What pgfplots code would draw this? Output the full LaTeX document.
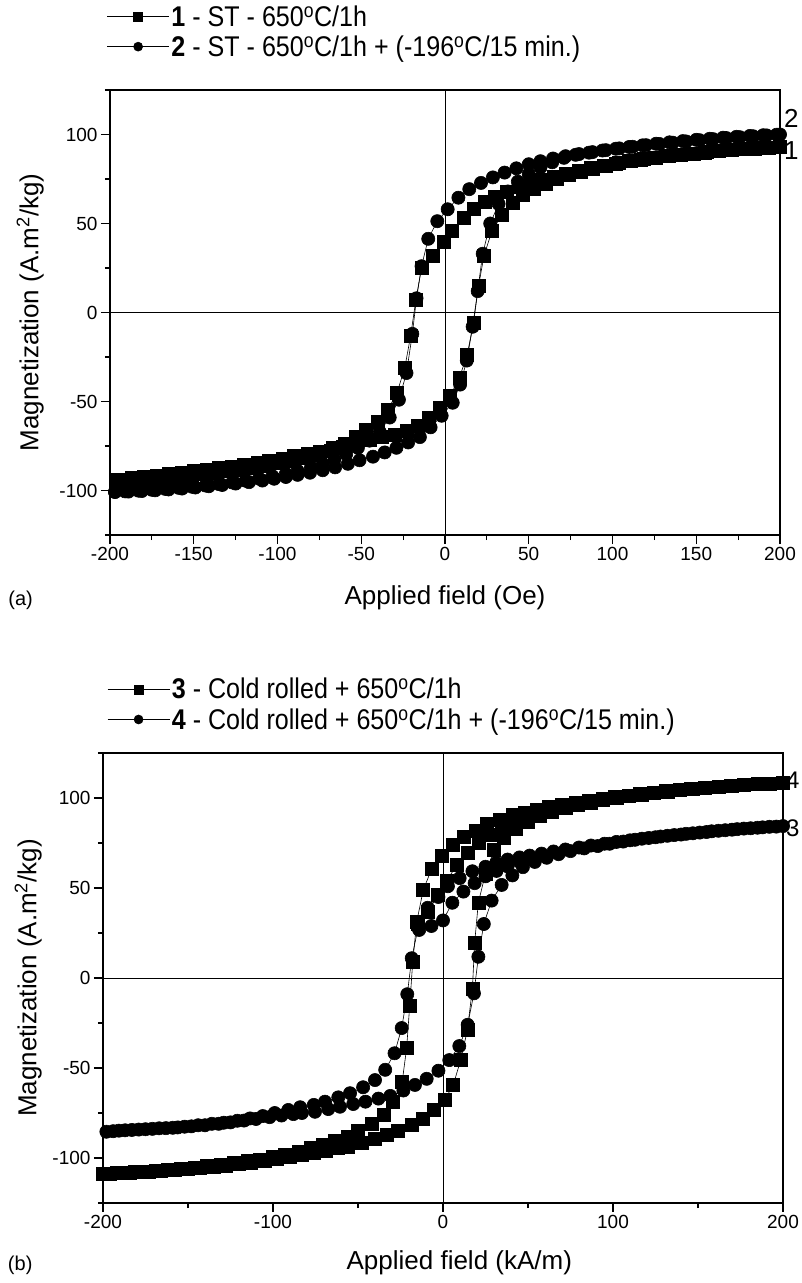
\documentclass[border=0pt]{standalone}
\usepackage{fontspec}
\setmainfont{Liberation Sans}
\newfontfamily\legfont{Liberation Sans}[FakeStretch=0.88]
\usepackage{pgfplots}
\pgfplotsset{compat=1.18}
\pgfplotsset{
  common/.style={
    scale only axis, clip=false,
    axis line style={line width=1.3pt},
    tick style={black, line width=1.2pt},
    tick align=outside, tick pos=left,
    major tick length=9pt, minor tick length=5pt,
    /pgf/number format/assume math mode=true,
    ticklabel style={font=\fontsize{19}{22}\selectfont},
    label style={font=\fontsize{26}{30}\selectfont},
    legend cell align=left,
    legend style={draw=none, fill=none, font=\legfont\fontsize{28.5}{32}\selectfont, inner sep=0pt, row sep=4pt},
    legend image code/.code={\draw[mark repeat=2, mark phase=2, mark size=4.5pt] plot coordinates {(0pt,0pt) (31pt,0pt) (62pt,0pt)};},
    ymin=-125, ymax=125,
    ytick={-100,-50,0,50,100}, minor ytick={-125,-75,-25,25,75,125},
  },
  sq/.style={black, line width=0.6pt, mark=square*, mark size=6.5pt, mark options={solid, fill=black}},
  ci/.style={black, line width=0.6pt, mark=*, mark size=6.6pt, mark options={solid, fill=black}},
  zl/.style={black, line width=1pt, forget plot},
}
\begin{document}
\begin{tikzpicture}
\useasboundingbox (0pt,0pt) rectangle (802pt,-1283pt);
% ---------------- (a) ----------------
\begin{axis}[common, at={(110pt,-90pt)}, anchor=north west, width=670pt, height=445pt,
  xmin=-200, xmax=200, xtick={-200,-150,...,200}, minor xtick={-175,-125,...,175},
  xlabel={Applied field (Oe)}, ylabel={Magnetization (A.m\textsuperscript{2}/kg)},
  x label style={at={(axis description cs:0.5,-0.142)}, anchor=center},
  y label style={at={(axis description cs:-0.119,0.5)}, anchor=center},
  legend style={at={(axis description cs:-0.005,1.195)}, anchor=north west}]
\addlegendimage{sq}\addlegendentry{\textbf{1} - ST - 650\textsuperscript{o}C/1h}
\addlegendimage{ci}\addlegendentry{\textbf{2} - ST - 650\textsuperscript{o}C/1h + (-196\textsuperscript{o}C/15 min.)}
\addplot[zl] coordinates {(-200,0) (200,0)};
\addplot[zl] coordinates {(0,-125) (0,125)};
% series 2 (circles)
\addplot[ci, forget plot] coordinates {(200,100) (192,99.5) (184,99) (176,98.5) (168,98) (160,97.4) (152,96.8) (144,96.1) (136,95.4) (128,94.7) (120,94) (112,93.1) (104,92.2) (96,91.2) (88,90.1) (80,89) (72,87.8) (64.5,86.5) (57,85) (50,83.3) (42.6,81) (35.6,78.6) (28.6,75.9) (21.5,72.8) (14.5,69.3) (8,64.5) (1.6,58) (-4.6,51.3) (-10,41.4) (-14,26) (-17,8) (-19.5,-12) (-23,-34) (-27.5,-49) (-33,-59) (-39,-67) (-45,-72) (-52,-76) (-59,-79.5) (-66,-82.5) (-73,-85) (-80,-87) (-88,-89) (-95,-90.6) (-103,-92) (-111,-93.3) (-119,-94.5) (-127,-95.5) (-135,-96.4) (-143,-97.2) (-151,-97.9) (-159,-98.5) (-167,-99.1) (-175,-99.6) (-183,-100.1) (-191,-100.5) (-197,-100.8)};
\addplot[ci, forget plot] coordinates {(-197,-100.8) (-189,-100.6) (-181,-100.3) (-173,-99.9) (-165,-99.4) (-157,-98.9) (-149,-98.3) (-141,-97.6) (-133,-96.9) (-125,-96.1) (-117,-95.3) (-109,-94.4) (-102,-93.4) (-95,-92.4) (-88,-91.2) (-80.6,-90) (-73,-88.6) (-65.6,-87) (-58,-85) (-51,-83) (-43,-81) (-36,-78.6) (-29,-76) (-22,-73) (-15,-70) (-8.6,-64.5) (-2,-58) (4.6,-50.7) (9,-40.5) (13,-27) (16.5,-8) (19.5,12) (22.5,33) (27,50) (32,61) (37.5,68) (43.5,73.5) (50,77.8) (57,81.5) (64,84.4) (71,86.9) (78,88.6) (86,89.8) (94,91) (102,92) (110,93) (118,93.9) (126,94.8) (134,95.6) (142,96.3) (150,97) (158,97.6) (166,98.2) (174,98.7) (182,99.2) (190,99.6) (198,99.9)};
% series 1 (squares)
\addplot[sq, forget plot] coordinates {(200,93) (192,92.6) (185,92.2) (177,91.7) (170,91.2) (162,90.6) (155,90) (147,89.3) (140,88.6) (132,87.8) (125,87) (117,86) (110,85) (102,83.8) (95,82.5) (87,81.2) (80,79.8) (72,78.2) (65,76.5) (58,74.7) (51,72.7) (44,70.5) (37,68) (30,65) (24,62) (17,58) (11,53) (4,46) (-1,39.5) (-7,32) (-14,25) (-17.4,7) (-20.5,-13) (-24,-31) (-28.6,-45) (-34,-54.5) (-40,-61.5) (-47,-65.7) (-53,-70) (-60,-73.6) (-67,-76) (-75,-78) (-82,-79.5) (-90,-80.5) (-97,-82) (-105,-83.3) (-112,-84.5) (-120,-85.6) (-127,-86.6) (-135,-87.5) (-142,-88.4) (-150,-89.2) (-157,-90) (-165,-90.8) (-172,-91.5) (-180,-92.3) (-187,-93) (-196,-93.8)};
\addplot[sq, forget plot] coordinates {(-196,-94.6) (-188,-94.2) (-181,-93.7) (-173,-93.2) (-166,-92.7) (-158,-92.1) (-151,-91.5) (-143,-90.8) (-136,-90) (-128,-89.2) (-121,-88.3) (-113,-87.2) (-106,-86) (-98,-84.7) (-91,-83.3) (-83,-81.6) (-76,-79.7) (-68,-77.5) (-61,-75.5) (-53,-73.5) (-45,-71.5) (-38,-70) (-30,-68.5) (-23,-66.7) (-16,-63.5) (-9.4,-59) (-3,-53.5) (3,-47) (8.6,-36.7) (13.3,-23.6) (17,-5.8) (20,14.8) (23.3,32) (28,45.7) (34,55) (40.4,61.6) (46.6,66) (53,69.5) (60,72.5) (67,75) (74,77.3) (81,79.3) (88,81) (96,82.6) (103.5,84) (111,85.1) (118.5,86.2) (126,87.1) (133.5,87.9) (141,88.7) (148.5,89.4) (156,90.1) (163.5,90.7) (171,91.3) (178.5,91.8) (186,92.3) (193.5,92.7) (200,93)};
\node[anchor=west, font=\fontsize{26}{30}\selectfont, inner sep=0pt] at (axis cs:200,109) {\hspace{4pt}2};
\node[anchor=west, font=\fontsize{26}{30}\selectfont, inner sep=0pt] at (axis cs:200,91) {\hspace{4pt}1};
\node[anchor=west, font=\fontsize{20}{24}\selectfont, inner sep=0pt] at (rel axis cs:-0.152,-0.146) {(a)};
\end{axis}
% ---------------- (b) ----------------
\begin{axis}[common, at={(103pt,-753pt)}, anchor=north west, width=680pt, height=450pt,
  xmin=-200, xmax=200, xtick={-200,-100,...,200}, minor xtick={-150,-50,50,150},
  xlabel={Applied field (kA/m)}, ylabel={Magnetization (A.m\textsuperscript{2}/kg)},
  x label style={at={(axis description cs:0.524,-0.133)}, anchor=center},
  y label style={at={(axis description cs:-0.110,0.5)}, anchor=center},
  legend style={at={(axis description cs:0.006,1.171)}, anchor=north west}]
\addlegendimage{sq}\addlegendentry{\textbf{3} - Cold rolled + 650\textsuperscript{o}C/1h}
\addlegendimage{ci}\addlegendentry{\textbf{4} - Cold rolled + 650\textsuperscript{o}C/1h + (-196\textsuperscript{o}C/15 min.)}
\addplot[zl] coordinates {(-200,0) (200,0)};
\addplot[zl] coordinates {(0,-125) (0,125)};
% series 4 (circles)
\addplot[ci, forget plot] coordinates {(200,84.4) (192,84) (185,83.5) (177,83) (170,82.4) (162,81.8) (155,81.1) (147,80.4) (140,79.7) (132,79) (125,78.2) (117,77.4) (110,76.5) (102,75.6) (95,74.6) (87,73.6) (80,72.5) (72,71.4) (65,70.3) (58,69.1) (51,68) (45,67) (38,65.8) (31.4,64) (25,61.8) (17.3,59.3) (9.8,55.5) (2.9,51) (-2.7,45) (-9,39) (-14.6,28) (-18.4,11) (-21,-9) (-24.3,-27.8) (-28.5,-41.8) (-34,-51) (-40,-56.7) (-47,-60.7) (-54.7,-64) (-61.6,-66.3) (-69.4,-68.7) (-76,-70.5) (-84,-71.8) (-91,-73.3) (-99,-75) (-106,-76.7) (-113.5,-78) (-121,-79.3) (-129,-80.4) (-136,-81) (-144,-81.8) (-152,-82.6) (-159,-83.2) (-167,-83.5) (-175,-84) (-183,-84.4) (-190.6,-84.8) (-198,-85.4)};
\addplot[ci, forget plot] coordinates {(-194,-85.1) (-187,-84.6) (-179,-84.2) (-171,-83.8) (-163,-83.4) (-156,-83) (-148,-82.4) (-140,-81.8) (-132,-81) (-125,-80.2) (-117,-79.2) (-110,-78.3) (-102,-77.3) (-95,-76.4) (-88,-75.6) (-83,-75) (-75.3,-74.3) (-67.5,-72.8) (-60.6,-71.5) (-52.8,-70) (-45.6,-68.7) (-38,-67) (-31,-65.5) (-23.3,-62.5) (-16.5,-59.4) (-9.6,-56) (-2.7,-51.5) (3.7,-45.6) (9.6,-37.8) (14.5,-26) (18.2,-8.5) (20.8,11.8) (24,30) (28.6,43) (34.5,51.7) (40.8,57) (47,61.6) (54,64.5) (61,66.8) (68,68.8) (75,70.5) (83,72) (91,73.3) (98,74.6) (106,75.8) (113,76.8) (121,77.8) (128,78.6) (136,79.4) (143,80.1) (151,80.8) (158,81.5) (166,82.1) (173,82.7) (181,83.2) (188,83.7) (196,84.1)};
\addplot[ci, forget plot] coordinates {(-14,26.7) (-6.8,28.9) (0,32) (5.5,41.8) (12,48) (18.6,52.7) (25,56.5) (31.5,59.5) (38,62) (45,64.5) (52,66.2)};
% series 3 (squares)
\addplot[sq, forget plot] coordinates {(200,108.3) (192,108) (185,107.7) (177,107.3) (169,106.8) (162,106.3) (154,105.7) (146,105.1) (139,104.5) (131,103.8) (124,103.1) (116,102.3) (109,101.5) (101,100.6) (94,99.6) (86,98.6) (78,97.5) (70,96.3) (62,95) (55,93.3) (48,91.8) (40.8,90.5) (33.3,88) (26,85.5) (19.2,82) (12.2,78.5) (5.7,74) (-0.8,67.8) (-6.7,60.5) (-11.6,49) (-15.5,31) (-17.8,9) (-19.6,-15.5) (-21.4,-39) (-24,-57.6) (-29.4,-69) (-35,-76) (-42,-81) (-50,-85) (-56,-88) (-63.5,-90.5) (-70.6,-92.4) (-77.6,-94.5) (-85,-96.5) (-93,-98) (-100,-99.6) (-107.6,-100.8) (-115,-101.8) (-123,-102.8) (-131,-103.6) (-139,-104.4) (-146,-105.2) (-154,-105.9) (-162,-106.5) (-169,-107) (-177,-107.6) (-184,-108) (-192,-108.4) (-200,-108.8)};
\addplot[sq, forget plot] coordinates {(-196,-108.6) (-188,-108.2) (-181,-107.8) (-173,-107.4) (-166,-107) (-158,-106.5) (-150,-106) (-143,-105.4) (-135,-104.8) (-128,-104.1) (-120,-103.3) (-113,-102.5) (-105,-101.6) (-98,-100.6) (-90,-99.4) (-83,-98.2) (-76,-97) (-69,-95.8) (-62,-94.6) (-56,-93.5) (-48,-91.6) (-40,-89.6) (-33,-87) (-26.5,-85) (-18.6,-81.7) (-12,-78) (-5.7,-73.3) (1,-67.8) (6,-59.4) (10.4,-45.6) (14.3,-29) (17.3,-6) (18.6,19.4) (20.8,42) (25,58) (30,71) (36,78) (43,83) (50,87) (57,90) (64,92.5) (72,94.5) (79,96) (87,97.5) (94,98.8) (102,100) (109,101) (117,102) (124,102.9) (132,103.7) (139,104.4) (147,105.1) (154,105.7) (162,106.3) (170,106.8) (177,107.3) (185,107.7) (192,108) (200,108.3)};
\addplot[sq, forget plot] coordinates {(-15,30) (-8.8,37) (-3,46) (2,54) (8.3,62.8) (14.8,69.6) (21.3,75) (27.5,79.4) (34.3,83) (42,86) (49,88.7) (56,91)};
\node[anchor=west, font=\fontsize{24}{28}\selectfont, inner sep=0pt] at (axis cs:200,110) {\hspace{3pt}4};
\node[anchor=west, font=\fontsize{24}{28}\selectfont, inner sep=0pt] at (axis cs:200,83) {\hspace{3pt}3};
\node[anchor=west, font=\fontsize{20}{24}\selectfont, inner sep=0pt] at (rel axis cs:-0.14,-0.138) {(b)};
\end{axis}
\end{tikzpicture}
\end{document}
